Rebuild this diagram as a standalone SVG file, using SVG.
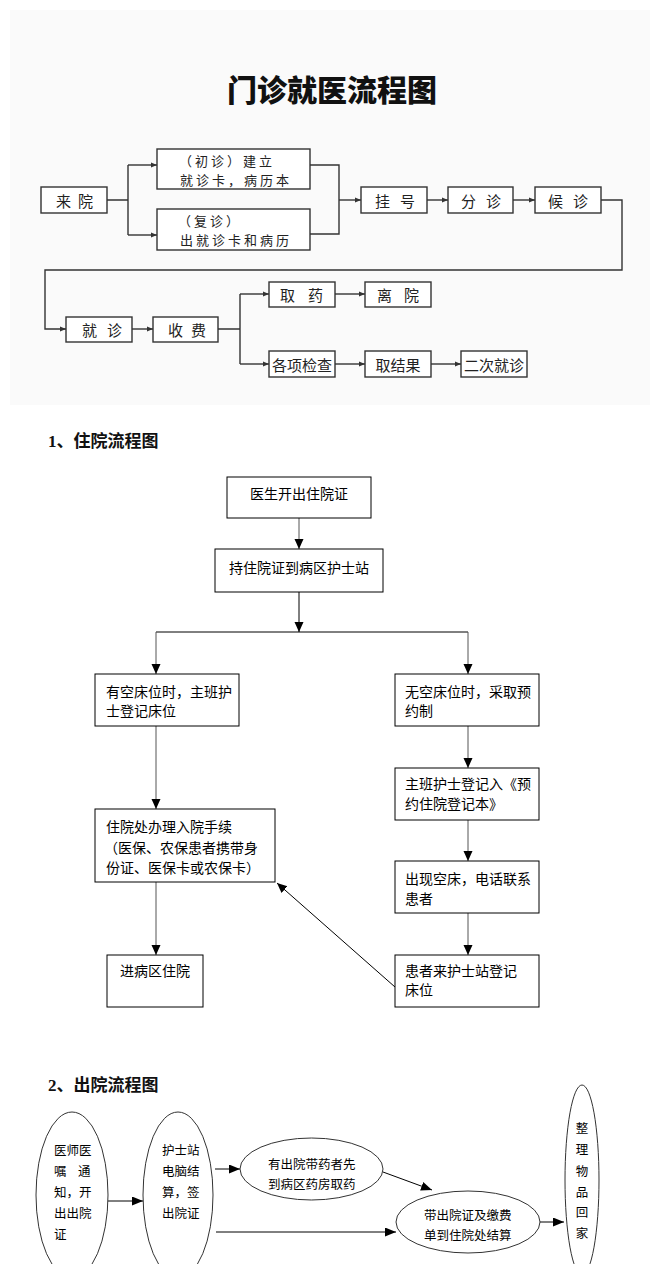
<svg xmlns="http://www.w3.org/2000/svg" width="659" height="1274" viewBox="0 0 659 1274">
<style>
text{font-family:"Noto Sans CJK SC","Liberation Sans",sans-serif;dominant-baseline:central;}
.t1{font-size:15px;fill:#222;}
.t1s{font-size:13px;fill:#222;letter-spacing:3px;}
.t2{font-size:14px;fill:#000;}
.t3{font-size:12.5px;fill:#000;}
.h{font-family:"Liberation Serif","Noto Sans CJK SC",serif;font-weight:bold;font-size:17px;fill:#111;}
.b1{fill:#fff;stroke:#333;stroke-width:1.4;}
.b2{fill:#fff;stroke:#000;stroke-width:1;}
.e{fill:#fff;stroke:#333;stroke-width:1;}
.c1{fill:none;stroke:#333;stroke-width:1.4;}
.c2{fill:none;stroke:#555;stroke-width:1;}
.c3{fill:none;stroke:#000;stroke-width:1;}
</style>
<defs>
<marker id="a1" markerUnits="userSpaceOnUse" markerWidth="7" markerHeight="6" refX="6" refY="3" orient="auto"><path d="M0,0.5 L6,3 L0,5.5 z" fill="#333"/></marker>
<marker id="a2" markerUnits="userSpaceOnUse" markerWidth="11" markerHeight="10" refX="10" refY="4.5" orient="auto"><path d="M0,0 L10,4.5 L0,9 z" fill="#000"/></marker>
<marker id="a3" markerUnits="userSpaceOnUse" markerWidth="12" markerHeight="10" refX="11" refY="4.5" orient="auto"><path d="M0,0 L11,4.5 L0,9 z" fill="#000"/></marker>
<clipPath id="clipb"><rect x="0" y="0" width="659" height="1264"/></clipPath>
</defs>
<rect x="0" y="0" width="659" height="1274" fill="#fff"/>
<rect x="10" y="10" width="640" height="395" fill="#fafafa"/>
<text x="332" y="88" text-anchor="middle" style="font-size:30px;font-weight:900;fill:#111">门诊就医流程图</text>

<g id="connectors-top">
<path class="c1" d="M107,200 H128 M128,165 V235"/>
<path class="c1" d="M128,165 H157" marker-end="url(#a1)"/>
<path class="c1" d="M128,235 H157" marker-end="url(#a1)"/>
<path class="c1" d="M310,165 H339 V234 H310"/>
<path class="c1" d="M339,200 H361" marker-end="url(#a1)"/>
<path class="c1" d="M427,200 H448" marker-end="url(#a1)"/>
<path class="c1" d="M513,200 H535" marker-end="url(#a1)"/>
<path class="c1" d="M601,200 H622 V270 H45 V329 H66" marker-end="url(#a1)"/>
<path class="c1" d="M132,329 H153" marker-end="url(#a1)"/>
<path class="c1" d="M218,329 H240 M240,294 V364"/>
<path class="c1" d="M240,294 H269" marker-end="url(#a1)"/>
<path class="c1" d="M240,364 H269" marker-end="url(#a1)"/>
<path class="c1" d="M335,294 H365" marker-end="url(#a1)"/>
<path class="c1" d="M335,364 H365" marker-end="url(#a1)"/>
<path class="c1" d="M431,364 H461" marker-end="url(#a1)"/>
</g>

<g id="n-laiyuan"><rect class="b1" x="41" y="187" width="66" height="26"/><text class="t1" x="56 78" y="200">来院</text></g>
<g id="n-chuzhen"><rect class="b1" x="157" y="149" width="153" height="40"/><text class="t1s" x="179" y="160">（初诊）建立</text><text class="t1s" x="180" y="179">就诊卡，病历本</text></g>
<g id="n-fuzhen"><rect class="b1" x="157" y="209" width="153" height="41"/><text class="t1s" x="178" y="220">（复诊）</text><text class="t1s" x="180" y="239">出就诊卡和病历</text></g>
<g id="n-guahao"><rect class="b1" x="361" y="187" width="66" height="26"/><text class="t1" x="375 400" y="200">挂号</text></g>
<g id="n-fenzhen"><rect class="b1" x="448" y="187" width="65" height="26"/><text class="t1" x="461 486" y="200">分诊</text></g>
<g id="n-houzhen"><rect class="b1" x="535" y="187" width="66" height="26"/><text class="t1" x="548 573" y="200">候诊</text></g>
<g id="n-jiuzhen"><rect class="b1" x="66" y="317" width="66" height="25"/><text class="t1" x="82 107" y="329">就诊</text></g>
<g id="n-shoufei"><rect class="b1" x="153" y="317" width="65" height="25"/><text class="t1" x="168 191" y="329">收费</text></g>
<g id="n-quyao"><rect class="b1" x="269" y="282" width="66" height="25"/><text class="t1" x="280 308" y="294">取药</text></g>
<g id="n-liyuan"><rect class="b1" x="365" y="282" width="66" height="25"/><text class="t1" x="377 404" y="294">离院</text></g>
<g id="n-jiancha"><rect class="b1" x="269" y="351" width="66" height="26"/><text class="t1" x="302" y="364" text-anchor="middle">各项检查</text></g>
<g id="n-qujieguo"><rect class="b1" x="365" y="351" width="66" height="26"/><text class="t1" x="398" y="364" text-anchor="middle">取结果</text></g>
<g id="n-erci"><rect class="b1" x="461" y="351" width="66" height="26"/><text class="t1" x="494" y="364" text-anchor="middle">二次就诊</text></g>

<text class="h" x="48" y="441">1、住院流程图</text>

<g id="connectors-zhuyuan">
<path class="c2" d="M299,518 V549" marker-end="url(#a2)"/>
<path class="c3" d="M299,592 V632" marker-end="url(#a2)"/>
<path class="c3" d="M156,632 H468"/>
<path class="c2" d="M156,632 V674" marker-end="url(#a2)"/>
<path class="c2" d="M468,632 V674" marker-end="url(#a2)"/>
<path class="c2" d="M156,726 V809" marker-end="url(#a2)"/>
<path class="c2" d="M156,882 V955" marker-end="url(#a2)"/>
<path class="c2" d="M468,726 V768" marker-end="url(#a2)"/>
<path class="c2" d="M468,820 V861" marker-end="url(#a2)"/>
<path class="c2" d="M468,913 V955" marker-end="url(#a2)"/>
<path class="c3" d="M395,987 L277,883" marker-end="url(#a2)"/>
</g>

<g id="n-kaizheng"><rect class="b2" x="227" y="477" width="144" height="41"/><text class="t2" x="299" y="493" text-anchor="middle">医生开出住院证</text></g>
<g id="n-hushizhan"><rect class="b2" x="215" y="549" width="168" height="43"/><text class="t2" x="299" y="567" text-anchor="middle">持住院证到病区护士站</text></g>
<g id="n-youkong"><rect class="b2" x="95" y="674" width="144" height="52"/><text class="t2" x="106" y="691">有空床位时，主班护</text><text class="t2" x="106" y="710">士登记床位</text></g>
<g id="n-wukong"><rect class="b2" x="395" y="674" width="144" height="52"/><text class="t2" x="405" y="691">无空床位时，采取预</text><text class="t2" x="405" y="710">约制</text></g>
<g id="n-ruyuan"><rect class="b2" x="95" y="809" width="180" height="73"/><text class="t2" x="106" y="826">住院处办理入院手续</text><text class="t2" x="104" y="847">（医保、农保患者携带身</text><text class="t2" x="106" y="867">份证、医保卡或农保卡）</text></g>
<g id="n-jinbingqu"><rect class="b2" x="107" y="955" width="96" height="52"/><text class="t2" x="155" y="970" text-anchor="middle">进病区住院</text></g>
<g id="n-dengji"><rect class="b2" x="395" y="768" width="144" height="52"/><text class="t2" x="405" y="783">主班护士登记入《预</text><text class="t2" x="405" y="803">约住院登记本》</text></g>
<g id="n-kongchuang"><rect class="b2" x="395" y="861" width="144" height="52"/><text class="t2" x="405" y="878">出现空床，电话联系</text><text class="t2" x="405" y="898">患者</text></g>
<g id="n-laihushi"><rect class="b2" x="395" y="955" width="144" height="52"/><text class="t2" x="405" y="970">患者来护士站登记</text><text class="t2" x="405" y="989">床位</text></g>

<text class="h" x="48" y="1085">2、出院流程图</text>

<g clip-path="url(#clipb)">
<g id="connectors-chuyuan">
<path class="c3" d="M108,1201 H143" marker-end="url(#a3)"/>
<path class="c3" d="M215,1169 H240" marker-end="url(#a3)"/>
<path class="c3" d="M216,1232 H396" marker-end="url(#a3)"/>
<path class="c3" d="M383,1172 L432,1190" marker-end="url(#a3)"/>
<path class="c3" d="M540,1222 H564" marker-end="url(#a3)"/>
</g>
<g id="n-yizhu"><ellipse class="e" cx="72" cy="1195" rx="36" ry="83"/>
<text class="t3" x="54" y="1149">医师医</text>
<text class="t3" x="54 78" y="1170">嘱通</text>
<text class="t3" x="54" y="1191">知，开</text>
<text class="t3" x="54" y="1212">出出院</text>
<text class="t3" x="54" y="1233">证</text></g>
<g id="n-jiesuan"><ellipse class="e" cx="178" cy="1195" rx="35" ry="83"/>
<text class="t3" x="162" y="1149">护士站</text>
<text class="t3" x="162" y="1170">电脑结</text>
<text class="t3" x="162" y="1191">算，签</text>
<text class="t3" x="162" y="1212">出院证</text></g>
<g id="n-quyao2"><ellipse class="e" cx="311.5" cy="1169" rx="71.5" ry="31"/>
<text class="t3" x="268" y="1163">有出院带药者先</text>
<text class="t3" x="268" y="1183">到病区药房取药</text></g>
<g id="n-zhuyuanchu"><ellipse class="e" cx="468" cy="1222" rx="72" ry="31"/>
<text class="t3" x="424" y="1214">带出院证及缴费</text>
<text class="t3" x="424" y="1234">单到住院处结算</text></g>
<g id="n-huijia"><ellipse class="e" cx="582" cy="1180" rx="17" ry="95"/>
<text class="t3" x="582" y="1127" text-anchor="middle">整</text>
<text class="t3" x="582" y="1148" text-anchor="middle">理</text>
<text class="t3" x="582" y="1170" text-anchor="middle">物</text>
<text class="t3" x="582" y="1191" text-anchor="middle">品</text>
<text class="t3" x="582" y="1211" text-anchor="middle">回</text>
<text class="t3" x="582" y="1232" text-anchor="middle">家</text></g>
</g>
</svg>
